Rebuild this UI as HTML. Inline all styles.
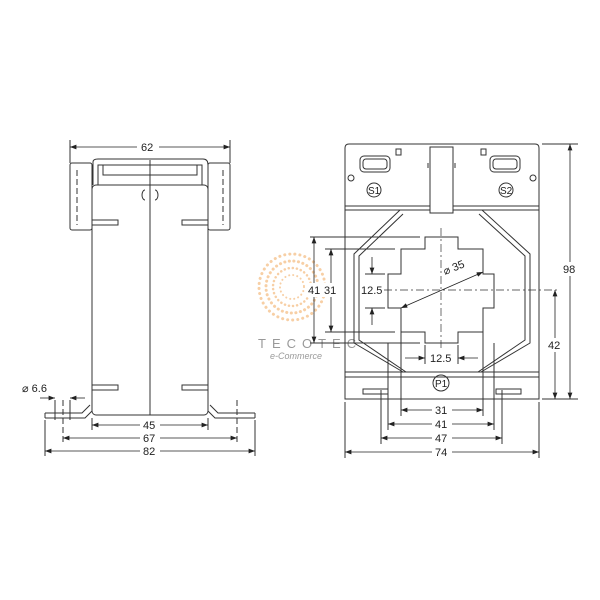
<!DOCTYPE html>
<html><head><style>body{margin:0;background:#fff}svg{display:block}text{font-family:"Liberation Sans",sans-serif;font-size:11px;fill:#222}</style></head>
<body>
<svg width="600" height="600" viewBox="0 0 600 600">
<defs><marker id="a" markerWidth="8" markerHeight="6" refX="8" refY="3" orient="auto-start-reverse"><path d="M0,0L8,3L0,6z" fill="#222"/></marker></defs>
<g fill="none" stroke="#f7cfa5" stroke-linecap="round">
<circle cx="292" cy="287" r="33" stroke-width="3" stroke-dasharray="0.1 5"/>
<circle cx="292" cy="287" r="26" stroke-width="3" stroke-dasharray="0.1 4.5"/>
<circle cx="292" cy="287" r="19" stroke-width="2.5" stroke-dasharray="0.1 4"/>
<circle cx="292" cy="287" r="12" stroke-width="2" stroke-dasharray="0.1 4"/>
</g>
<text x="258" y="348" style="font-size:13px;fill:#999;letter-spacing:6px">TECOTEC</text>
<text x="270" y="359" style="font-size:9px;fill:#999;font-style:italic">e-Commerce</text>
<g stroke="#333" stroke-width="1" fill="none">
<rect x="92" y="185" width="116" height="230" rx="4"/>
<line x1="150" y1="160" x2="150" y2="415"/>
<path d="M93,185 L93,162 Q93,159 98,159 L203,159 Q208,159 208,165 L208,185"/>
<path d="M98,185 L98,165 L202,165 L202,185"/>
<path d="M103,165 L103,175 L197,175 L197,165"/>
<rect x="70" y="163" width="22" height="67" rx="2"/>
<rect x="208" y="163" width="22" height="67" rx="2"/>
<path d="M145,190 a3,5 0 0 0 0,10 M155,190 a3,5 0 0 1 0,10"/>
<rect x="92" y="220" width="26" height="5"/><rect x="182" y="220" width="26" height="5"/>
<rect x="92" y="385" width="26" height="5"/><rect x="182" y="385" width="26" height="5"/>
<path d="M45,413 L82,413 L90,405 M45,418 L85,418 L92,411"/>
<path d="M255,413 L218,413 L210,405 M255,418 L215,418 L208,411"/>
<line x1="45" y1="413" x2="45" y2="418"/><line x1="255" y1="413" x2="255" y2="418"/>
<g stroke-dasharray="6 3"><line x1="63" y1="400" x2="63" y2="442"/><line x1="237" y1="400" x2="237" y2="442"/><line x1="77" y1="170" x2="77" y2="225"/><line x1="223" y1="170" x2="223" y2="225"/></g>
<line x1="70" y1="140" x2="70" y2="163"/><line x1="230" y1="140" x2="230" y2="163"/>
<line x1="45" y1="420" x2="45" y2="456"/><line x1="255" y1="420" x2="255" y2="456"/>
<line x1="92" y1="418" x2="92" y2="430"/><line x1="208" y1="418" x2="208" y2="430"/>
<line x1="55" y1="400" x2="55" y2="420"/><line x1="70" y1="400" x2="70" y2="420"/>
</g>
<g stroke="#222" stroke-width="0.8" fill="none">
<line x1="70" y1="147" x2="230" y2="147" marker-start="url(#a)" marker-end="url(#a)"/>
<line x1="92" y1="425" x2="208" y2="425" marker-start="url(#a)" marker-end="url(#a)"/>
<line x1="63" y1="438" x2="237" y2="438" marker-start="url(#a)" marker-end="url(#a)"/>
<line x1="45" y1="451" x2="255" y2="451" marker-start="url(#a)" marker-end="url(#a)"/>
<line x1="40" y1="398" x2="55" y2="398" marker-end="url(#a)"/><line x1="85" y1="398" x2="70" y2="398" marker-end="url(#a)"/>
</g>
<g fill="#fff" stroke="none"><rect x="137" y="141" width="22" height="12"/><rect x="140" y="419" width="20" height="12"/><rect x="140" y="432" width="20" height="12"/><rect x="140" y="445" width="20" height="12"/></g>
<text x="141" y="151">62</text><text x="143" y="429">45</text><text x="143" y="442">67</text><text x="143" y="455">82</text>
<text x="22" y="392">⌀ 6.6</text>

<g stroke="#333" stroke-width="1" fill="none">
<path d="M345,399 L345,148 Q345,144 349,144 L535,144 Q539,144 539,148 L539,399 Z"/>
<line x1="345" y1="206" x2="430" y2="206"/><line x1="453" y1="206" x2="539" y2="206"/>
<line x1="345" y1="210" x2="430" y2="210"/><line x1="453" y1="210" x2="539" y2="210"/>
<line x1="345" y1="372" x2="539" y2="372"/><line x1="345" y1="377" x2="539" y2="377"/>
<rect x="430" y="147" width="23" height="66"/>
<line x1="428" y1="163" x2="428" y2="168"/><line x1="455" y1="163" x2="455" y2="168"/>
<rect x="360" y="156" width="30" height="16" rx="4"/><rect x="363" y="159" width="24" height="10" rx="3"/>
<rect x="490" y="156" width="30" height="16" rx="4"/><rect x="493" y="159" width="24" height="10" rx="3"/>
<rect x="396" y="149" width="5" height="6"/><rect x="481" y="149" width="5" height="6"/>
<circle cx="351" cy="178" r="3"/><circle cx="533" cy="178" r="3"/>
<circle cx="374" cy="190" r="7"/><circle cx="506" cy="190" r="7"/><circle cx="441" cy="383" r="8"/>
<path d="M400,210 L354,254 L354,343 L403,372"/>
<path d="M482,210 L530,254 L530,343 L481,372"/>
<path d="M403,214 L359,256 L359,340 L406,372"/>
<path d="M479,214 L525,256 L525,340 L478,372"/>
<path d="M425,237 L458,237 L458,249 L483,249 L483,274 L494,274 L494,308 L483,308 L483,332 L458,332 L458,343 L425,343 L425,332 L401,332 L401,308 L388,308 L388,274 L401,274 L401,249 L425,249 Z"/>
<rect x="363" y="389" width="25" height="5"/><rect x="496" y="389" width="25" height="5"/>
<line x1="381" y1="390" x2="381" y2="444"/><line x1="502" y1="390" x2="502" y2="444"/>
<line x1="388" y1="343" x2="388" y2="430"/><line x1="494" y1="343" x2="494" y2="430"/>
<line x1="401" y1="332" x2="401" y2="416"/><line x1="483" y1="332" x2="483" y2="416"/>
<line x1="345" y1="402" x2="345" y2="458"/><line x1="539" y1="402" x2="539" y2="458"/>
<line x1="425" y1="345" x2="425" y2="364"/><line x1="458" y1="345" x2="458" y2="364"/>
<line x1="310" y1="237" x2="420" y2="237"/><line x1="325" y1="249" x2="395" y2="249"/>
<line x1="325" y1="332" x2="395" y2="332"/><line x1="310" y1="343" x2="420" y2="343"/>
<line x1="542" y1="144" x2="578" y2="144"/><line x1="542" y1="399" x2="578" y2="399"/>
<line x1="365" y1="274" x2="385" y2="274"/><line x1="365" y1="308" x2="385" y2="308"/>
</g>
<g stroke="#333" stroke-width="0.7" stroke-dasharray="8 3 2 3" fill="none">
<line x1="441" y1="228" x2="441" y2="350"/><line x1="384" y1="290" x2="560" y2="290"/>
</g>
<g stroke="#222" stroke-width="0.8" fill="none">
<line x1="570" y1="144" x2="570" y2="399" marker-start="url(#a)" marker-end="url(#a)"/>
<line x1="555" y1="290" x2="555" y2="399" marker-start="url(#a)" marker-end="url(#a)"/>
<line x1="314" y1="237" x2="314" y2="343" marker-start="url(#a)" marker-end="url(#a)"/>
<line x1="331" y1="249" x2="331" y2="332" marker-start="url(#a)" marker-end="url(#a)"/>
<line x1="372" y1="257" x2="372" y2="274" marker-end="url(#a)"/><line x1="372" y1="325" x2="372" y2="308" marker-end="url(#a)"/>
<line x1="405" y1="358" x2="425" y2="358" marker-end="url(#a)"/><line x1="478" y1="358" x2="458" y2="358" marker-end="url(#a)"/>
<line x1="401" y1="410" x2="483" y2="410" marker-start="url(#a)" marker-end="url(#a)"/>
<line x1="388" y1="424" x2="494" y2="424" marker-start="url(#a)" marker-end="url(#a)"/>
<line x1="381" y1="438" x2="502" y2="438" marker-start="url(#a)" marker-end="url(#a)"/>
<line x1="345" y1="452" x2="539" y2="452" marker-start="url(#a)" marker-end="url(#a)"/>
<line x1="401" y1="308" x2="483" y2="272" marker-start="url(#a)" marker-end="url(#a)"/>
</g>
<g fill="#fff" stroke="none">
<rect x="562" y="262" width="16" height="14"/><rect x="547" y="338" width="16" height="14"/>
<rect x="307" y="283" width="30" height="14"/><rect x="360" y="284" width="24" height="12"/>
<rect x="428" y="352" width="26" height="12"/>
<rect x="432" y="404" width="20" height="12"/><rect x="432" y="418" width="20" height="12"/><rect x="432" y="432" width="20" height="12"/><rect x="432" y="446" width="20" height="12"/>
</g>
<text x="563" y="273">98</text><text x="548" y="349">42</text>
<text x="308" y="294">41</text><text x="324" y="294">31</text>
<text x="361" y="294">12.5</text><text x="430" y="362">12.5</text>
<text x="445" y="275" transform="rotate(-22 445 275)">⌀ 35</text>
<text x="435" y="414">31</text><text x="435" y="428">41</text><text x="435" y="442">47</text><text x="435" y="456">74</text>
<text x="368" y="194" style="font-size:10px">S1</text><text x="500" y="194" style="font-size:10px">S2</text><text x="435" y="387" style="font-size:10px">P1</text>
</svg>
</body></html>
